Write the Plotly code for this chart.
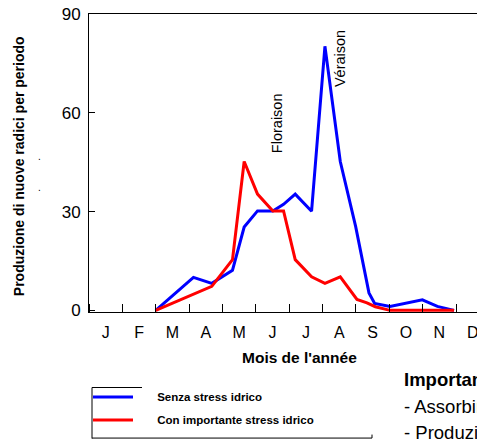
import plotly.graph_objects as go

# ---- data (x in months from start of January) ----
months = ["J", "F", "M", "A", "M", "J", "J", "A", "S", "O", "N", "D"]
month_pos = [0.5, 1.5, 2.5, 3.5, 4.5, 5.5, 6.5, 7.5, 8.5, 9.5, 10.5, 11.5]

x_senza = [2.0, 3.13, 3.68, 4.3, 4.65, 5.05, 5.51, 5.83, 6.18, 6.67, 7.07, 7.53, 7.99, 8.39, 8.56, 9.02, 9.99, 10.44, 10.94]
y_senza = [0, 10, 8.2, 12.2, 25.3, 30.2, 30.2, 32.2, 35.3, 30.1, 80.2, 45.2, 25.5, 5.3, 2.1, 1.2, 3.2, 1.2, 0]

x_con = [2.0, 3.68, 4.3, 4.65, 5.05, 5.51, 5.83, 6.18, 6.67, 7.07, 7.53, 8.03, 8.33, 8.58, 9.02, 9.99, 10.44, 10.94]
y_con = [0, 7.3, 15.4, 45.2, 35.3, 30.2, 30.2, 15.4, 10.2, 8.2, 10.2, 3.3, 2.3, 1.1, 0, 0, 0, 0]

y_ticks = [0, 30, 60, 90]

# ---- layout geometry (page has an 8px body margin) ----
OFF = 8
W, H = 485 - OFF, 439 - OFF
L, T = 89 - OFF, 14 - OFF
BOTTOM = 311.6 - OFF          # pixel of plot bottom edge
B = H - BOTTOM
PW, PH = W - L, BOTTOM - T


def px(xp):
    return (xp - OFF - L) / PW


def py(yp):
    return (BOTTOM - (yp - OFF)) / PH


fig = go.Figure()
NB = "\u00a0" * 6
fig.add_trace(go.Scatter(x=x_senza, y=y_senza, mode="lines", name=NB + "Senza stress idrico",
                         legendgroup="a", line=dict(color="#0000ff", width=3)))
fig.add_trace(go.Scatter(x=x_con, y=y_con, mode="lines", name=NB + "Con importante stress idrico",
                         legendgroup="b", line=dict(color="#ff0000", width=3)))

font = "Arial, Liberation Sans, sans-serif"


def note(text, x, y, size, angle=0, xanchor="center"):
    return dict(text=text, x=px(x), y=py(y), xref="paper", yref="paper", textangle=angle,
                xanchor=xanchor, yanchor="middle", showarrow=False,
                font=dict(size=size, color="black", family=font))


ann = [
    note("Floraison", 277, 123, 14.5, -90),
    note("Véraison", 340, 59, 14.5, -90),
    note("<b>Produzione di nuove radici per periodo</b>", 19, 166, 14, -90),
    note(".", 39, 156, 10),
    note(".", 39, 187, 10),
    note("<b>Mois de l'année</b>", 299, 357, 15.5),
    note("<b>Importante:</b>", 402, 379, 18.5, xanchor="left"),
    note("- Assorbimento", 402, 406, 18.5, xanchor="left"),
    note("- Produzione", 402, 432, 18.5, xanchor="left"),
]

shapes = [
    dict(type="line", xref="paper", yref="paper", x0=px(92), x1=px(92), y0=py(387), y1=py(438),
         line=dict(color="black", width=1)),
    dict(type="line", xref="paper", yref="paper", x0=px(92), x1=px(142), y0=py(387), y1=py(387),
         line=dict(color="black", width=1)),
    dict(type="line", xref="paper", yref="paper", x0=px(92), x1=px(372), y0=py(437.5), y1=py(437.5),
         line=dict(color="black", width=1)),
    dict(type="line", xref="paper", yref="paper", x0=px(372), x1=px(372), y0=py(434), y1=py(437.5),
         line=dict(color="black", width=1)),
]

fig.update_layout(
    width=W, height=H,
    margin=dict(l=L, r=0, t=T, b=B, autoexpand=False),
    paper_bgcolor="white", plot_bgcolor="white",
    font=dict(family=font, color="black"),
    annotations=ann, shapes=shapes,
    showlegend=True,
    legend=dict(x=px(88), y=py(382), xanchor="left", yanchor="top",
                font=dict(size=11.5, family=font, color="black", weight="bold"),
                traceorder="grouped", tracegroupgap=4, itemwidth=40,
                bgcolor="rgba(0,0,0,0)"),
    xaxis=dict(range=[0, PW / 33.37], tickvals=month_pos, ticktext=months, ticks="",
               tickfont=dict(size=16, family=font), showgrid=False, zeroline=False,
               showline=True, linecolor="black", linewidth=1, mirror=True,
               minor=dict(ticks="inside", tick0=0, dtick=1, ticklen=8, tickcolor="black",
                          tickwidth=1, showgrid=False),
               ticklabelstandoff=6, ticklabeloverflow="allow"),
    yaxis=dict(range=[-0.5, 90], tickvals=y_ticks, ticks="inside", ticklen=6, tickcolor="black",
               tickfont=dict(size=17, family=font), showgrid=False, zeroline=False,
               showline=True, linecolor="black", linewidth=1, mirror=False,
               ticklabelstandoff=4, ticklabeloverflow="allow"),
)

fig.write_html("out.html")
